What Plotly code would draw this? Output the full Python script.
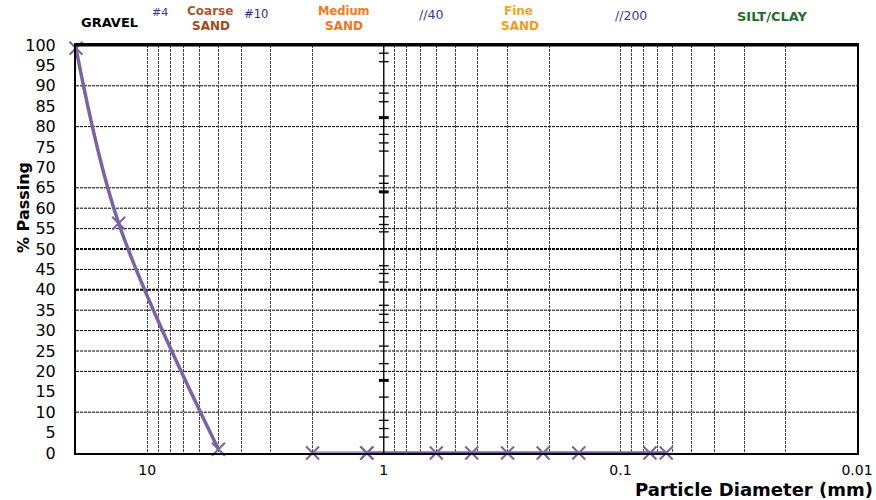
import math
import plotly.graph_objects as go

# ---- data ----
curve_d = [20.0, 13.2, 5.0]
curve_p = [99.2, 56.3, 0.9]
light_d = [2.0, 1.18]
light_p = [0.0, 0.0]
flat_d = [1.18, 0.6, 0.425, 0.3, 0.212, 0.15, 0.075, 0.064]
flat_p = [0, 0, 0, 0, 0, 0, 0, 0]

y_ticks = list(range(0, 101, 5))
grid_y = [10, 20, 25, 30, 35, 45, 55, 60, 65, 80, 90]
thick_grid_y = [40, 50]
axis1_ticks = [98.0, 95.9, 88.2, 86.1, 78.1, 76.0, 74.0, 67.9, 66.1, 57.9, 56.0, 54.2,
               45.9, 44.0, 41.9, 36.2, 34.0, 32.0, 26.2, 21.9, 13.7, 8.0, 6.0, 3.9]
axis1_thick_ticks = [82.2, 64.0, 17.8]

x_grid = [10, 9, 8, 7, 6, 5, 4, 3, 2, 1, 0.9, 0.8, 0.7, 0.6, 0.5, 0.4, 0.3, 0.2,
          0.1, 0.09, 0.08, 0.07, 0.06, 0.05, 0.04, 0.03, 0.02, 0.01]
x_labels = {10: "10", 1: "1", 0.1: "0.1", 0.01: "0.01"}

PURPLE = "#7b62a6"
LIGHT = "#a897cc"

# layout geometry
W, H = 876, 500
L, R, T, B = 76, 19, 45, 47
PW, PH = W - L - R, H - T - B


def px(x):
    return (x - L) / PW


def py(y):
    return (H - B - y) / PH


fig = go.Figure()

mk = dict(symbol="x-thin", size=13, line=dict(color=PURPLE, width=2))

fig.add_trace(go.Scatter(x=curve_d, y=curve_p, mode="lines+markers",
                         line=dict(color=PURPLE, width=3.5, shape="spline"),
                         marker=mk, cliponaxis=False, hoverinfo="skip"))
fig.add_trace(go.Scatter(x=light_d, y=light_p, mode="lines+markers",
                         line=dict(color=LIGHT, width=3.5),
                         marker=mk, cliponaxis=False, hoverinfo="skip"))
fig.add_trace(go.Scatter(x=flat_d, y=flat_p, mode="lines+markers",
                         line=dict(color=PURPLE, width=3.5),
                         marker=mk, cliponaxis=False, hoverinfo="skip"))

# vertical line at 1 mm with its tick marks
fig.add_trace(go.Scatter(x=[1, 1], y=[0, 100], mode="lines",
                         line=dict(color="black", width=1.3), hoverinfo="skip"))
fig.add_trace(go.Scatter(x=[1] * len(axis1_ticks), y=axis1_ticks, mode="markers",
                         marker=dict(symbol="line-ew", size=7,
                                     line=dict(color="black", width=1.3)),
                         hoverinfo="skip"))
fig.add_trace(go.Scatter(x=[1] * len(axis1_thick_ticks), y=axis1_thick_ticks, mode="markers",
                         marker=dict(symbol="line-ew", size=7,
                                     line=dict(color="black", width=3)),
                         hoverinfo="skip"))

shapes = []
for g in grid_y:
    shapes.append(dict(type="line", xref="paper", yref="y", x0=0, x1=1, y0=g, y1=g,
                       line=dict(color="black", width=1, dash="3px,1px"), layer="below"))
for g in thick_grid_y:
    shapes.append(dict(type="line", xref="paper", yref="y", x0=0, x1=1, y0=g, y1=g,
                       line=dict(color="black", width=2, dash="3px,1px"), layer="below"))
# heavier top border
shapes.append(dict(type="line", xref="paper", yref="paper", x0=0, x1=1, y0=1, y1=1,
                   line=dict(color="black", width=3)))

FONT = "DejaVu Sans, Arial, sans-serif"
ann = []


def label(text, x, y, color, size=12, bold=True):
    t = f"<b>{text}</b>" if bold else text
    ann.append(dict(text=t, x=px(x), y=py(y), xref="paper", yref="paper",
                    showarrow=False, xanchor="center", yanchor="middle",
                    font=dict(family=FONT, size=size, color=color)))


label("GRAVEL", 109, 23, "black", 13)
label("#4", 160, 12, "#3a3a9e", 11, False)
label("Coarse", 210, 11, "#b0562c", 12)
label("SAND", 211, 26, "#9c4820", 12)
label("#10", 256, 14, "#2a2a8c", 11.5, False)
label("Medium", 344, 11, "#f47b20", 11.5)
label("SAND", 344, 26, "#f27318", 12)
label("//40", 431, 14, "#3a3a9e", 12.5, False)
label("Fine", 518, 11, "#f5a21e", 12)
label("SAND", 520, 26, "#f59a1a", 12)
label("//200", 631, 15, "#3a3a9e", 12.5, False)
label("SILT/CLAY", 772, 16, "#1f6e2c", 13)

ann.append(dict(text="<b>Particle Diameter (mm)</b>", x=px(875), y=py(490),
                xref="paper", yref="paper", showarrow=False, xanchor="right",
                yanchor="middle", font=dict(family=FONT, size=18, color="black")))
ann.append(dict(text="<b>% Passing</b>", x=px(23), y=py(208), xref="paper", yref="paper",
                showarrow=False, xanchor="center", yanchor="middle", textangle=-90,
                font=dict(family=FONT, size=16, color="black")))

fig.update_layout(
    width=W, height=H,
    margin=dict(l=L, r=R, t=T, b=B, autoexpand=False),
    paper_bgcolor="white", plot_bgcolor="white",
    showlegend=False,
    shapes=shapes, annotations=ann,
    font=dict(family=FONT, color="black"),
    xaxis=dict(type="log", range=[math.log10(20), math.log10(0.01)],
               tickmode="array", tickvals=x_grid,
               ticktext=[x_labels.get(v, "") for v in x_grid],
               showgrid=True, gridcolor="#444444", gridwidth=1, griddash="3px,1px",
               showline=True, linecolor="black", linewidth=2, mirror=True,
               ticks="", ticklabelstandoff=3, tickfont=dict(size=14),
               zeroline=False, automargin=False),
    yaxis=dict(range=[0, 100], tickmode="array", tickvals=y_ticks,
               showgrid=False, showline=True, linecolor="black", linewidth=2,
               mirror=True, ticks="", ticklabelstandoff=15,
               tickfont=dict(size=16), zeroline=False, automargin=False),
)

fig.write_html("out.html")
